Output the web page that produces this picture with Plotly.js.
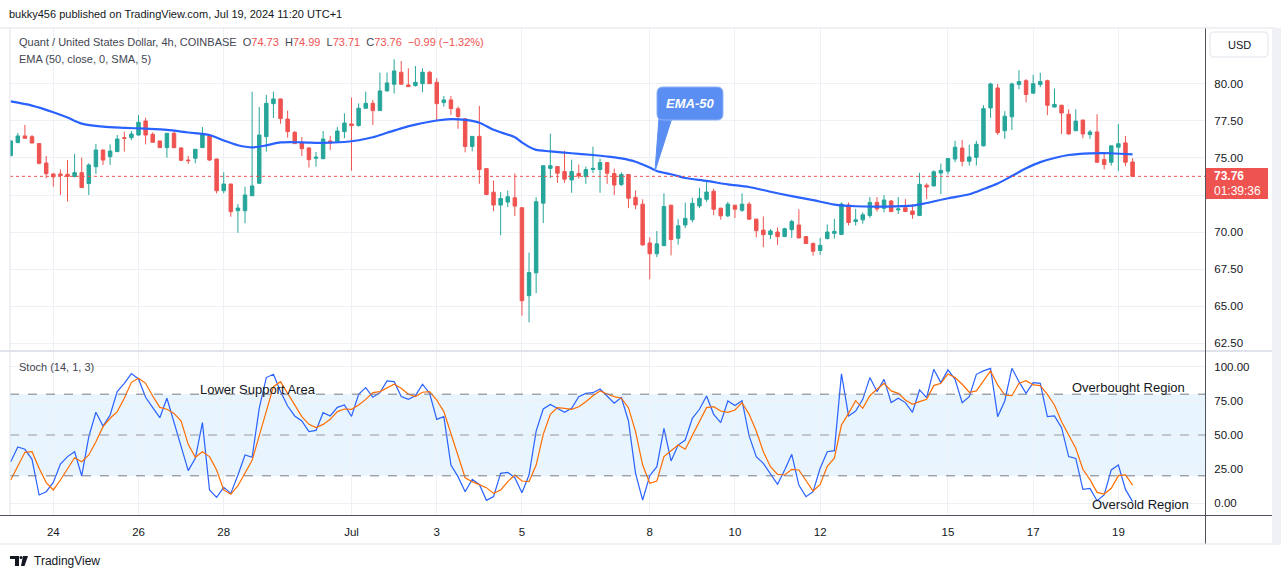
<!DOCTYPE html>
<html><head><meta charset="utf-8">
<script src="https://cdn.plot.ly/plotly-3.0.1.min.js"></script>
<style>html,body{margin:0;padding:0;background:#fff;}#chart{width:1281px;height:579px;}</style>
</head><body><div id="chart"></div>
<script>
// ---- DATA (4h candles, first candle = 2024-06-23 00:00) ----
const firstCandle = '2024-06-23T00:00:00Z';
const opens = [75.16,76.04,76.49,76.44,75.97,74.66,
 73.92,73.92,73.9,73.74,74.01,73.27,74.41,75.54,75.09,75.43,76.37,76.37,
 76.55,77.5,76.6,76.15,75.7,76.67,75.68,74.86,74.98,75.7,76.49,74.93,
 72.79,73.24,71.44,71.44,72.45,73.29,76.44,78.67,78.99,77.63,76.73,76.01,
 75.68,74.98,74.95,76.15,76.06,76.78,
 77.3,77.19,78.36,78.69,78.2,79.53,79.98,80.79,79.93,79.89,80.02,80.79,
 80.11,78.74,78.92,78.32,77.65,75.78,76.46,74.28,72.69,71.82,72.02,72.31,
 71.64,65.7,67.24,71.95,74.3,74.42,74.08,73.52,73.95,73.74,74.22,74.22,
 74.69,73.95,73.21,73.88,72.34,71.88,
 69.26,68.53,69.08,71.81,69.58,70.47,70.83,71.76,72.21,72.75,71.61,71.09,
 71.81,71.47,71.88,70.87,70.13,69.82,70.0,69.69,70.16,70.47,69.69,69.22,
 68.75,69.56,69.91,69.84,71.82,70.71,70.82,71.11,72.0,71.6,72.09,71.49,
 71.64,71.42,71.11,73.16,73.11,73.98,
 74.11,74.93,75.67,74.78,75.04,75.82,78.38,79.73,76.84,77.78,79.96,80.22,
 79.38,79.96,80.22,78.44,78.56,77.96,76.84,77.56,76.58,76.76,74.89,74.71,
 75.73,76.02,74.73];
const highs = [76.2,76.69,77.23,76.55,76.01,75.14,
 73.95,74.23,74.86,75.27,75.02,74.64,75.95,75.56,75.92,76.55,76.78,76.82,
 77.9,77.72,76.73,76.17,76.67,76.82,75.7,75.14,75.6,77.09,76.52,74.95,
 74.03,73.26,71.89,73.06,79.48,78.45,79.26,79.48,79.0,78.2,76.82,76.42,
 75.7,75.41,76.82,76.49,77.09,78.02,
 79.08,78.69,79.48,78.92,80.77,80.77,81.67,81.55,81.06,81.21,81.06,80.88,
 80.38,79.19,79.19,78.47,77.7,76.46,78.52,74.3,73.48,72.69,72.8,73.95,
 71.66,68.61,72.35,74.48,76.64,74.44,75.49,74.89,74.55,74.42,75.76,74.96,
 74.7,74.29,74.04,73.9,72.81,72.21,
 69.64,70.07,72.61,71.83,70.87,71.99,72.32,72.99,73.44,72.92,71.63,72.03,
 71.83,72.61,72.03,70.89,71.05,70.2,70.31,70.29,70.83,71.54,69.71,69.3,
 69.6,70.51,70.89,72.0,72.0,71.56,71.33,72.36,72.36,72.49,72.16,72.36,
 72.22,71.87,74.0,73.29,74.16,74.62,
 74.98,76.16,76.22,75.89,76.16,78.56,80.09,80.0,78.16,80.09,80.93,80.33,
 80.62,80.76,80.29,79.69,78.6,78.29,78.29,77.58,76.89,77.96,75.4,75.82,
 77.29,76.49,74.99];
const lows = [75.1,76.0,76.3,76.0,74.57,73.63,
 73.06,72.5,72.05,73.7,73.0,72.5,73.92,74.53,74.53,75.4,75.43,76.2,
 76.51,75.92,76.05,75.68,75.02,75.65,74.82,74.6,74.64,75.68,74.8,72.61,
 72.61,71.03,69.95,70.59,72.43,73.27,75.43,77.70,77.32,76.37,75.95,75.14,
 74.35,74.41,74.93,75.54,76.04,76.33,
 74.14,77.12,78.34,77.23,78.18,79.5,79.35,79.96,79.8,79.82,79.44,80.0,
 77.57,78.47,77.91,76.97,75.38,75.45,73.25,72.53,71.41,69.78,71.68,71.08,
 64.35,63.9,65.87,70.6,73.65,73.32,73.32,72.65,73.61,73.25,73.99,72.65,
 73.25,72.5,73.1,71.61,71.54,69.08,
 66.81,68.3,69.04,68.42,69.15,70.27,70.65,71.61,72.03,71.14,70.83,71.0,
 70.94,71.36,70.83,69.64,68.97,69.53,69.13,69.67,69.6,69.58,69.2,68.4,
 68.45,69.5,69.56,69.82,70.44,70.44,70.56,70.96,71.38,71.33,71.36,71.22,
 71.36,70.89,71.09,72.22,73.09,72.56,
 73.89,74.71,74.44,74.49,74.49,75.78,77.71,76.56,76.29,76.89,79.64,78.76,
 79.36,79.78,77.89,78.42,76.62,76.6,76.82,76.33,76.29,74.69,74.22,74.49,
 74.11,74.44,73.71];
const closes = [76.15,76.49,76.33,76.01,74.64,73.94,
 73.72,73.81,73.76,74.01,73.0,74.53,75.54,74.86,75.47,76.28,76.33,76.62,
 77.41,76.55,76.06,75.7,76.67,75.7,74.84,74.82,75.59,76.6,74.86,72.79,
 73.24,71.37,71.62,72.5,73.11,76.55,78.69,78.99,77.66,76.78,75.97,75.63,
 74.89,75.05,76.28,76.01,76.82,77.36,
 77.19,78.36,78.69,78.2,79.53,80.07,80.88,79.98,79.82,80.11,80.79,80.02,
 78.67,78.92,78.34,77.8,75.78,76.46,74.22,72.53,71.82,72.26,72.38,71.75,
 65.36,67.26,72.04,74.48,74.48,73.97,73.57,74.08,73.79,74.22,74.3,74.69,
 73.97,73.17,73.88,72.28,71.83,69.13,
 68.53,69.2,71.72,69.49,70.42,70.92,71.94,72.28,72.7,71.54,71.09,71.88,
 71.54,71.88,70.87,70.09,69.82,70.07,69.69,70.22,70.71,69.6,69.22,68.7,
 69.1,70.0,70.04,71.89,70.64,70.82,71.16,72.0,71.56,72.16,71.38,71.56,
 71.38,71.18,73.22,73.04,74.07,74.16,
 74.96,75.73,74.78,75.07,75.93,78.33,80.0,76.71,77.82,80.0,80.16,79.29,
 80.02,80.16,78.56,78.62,78.04,76.62,77.49,76.62,76.76,74.71,74.56,75.82,
 75.96,74.71,73.76];

// EMA-50 at candle numbers (0 = first candle)
const emaCandle = [0,3,6,8,10,13,16,19,22,25,28,30,32,34,36,38,41,44,47,49,51,53,55,57,60,62,64,66,68,71,72,73,74,76,79,82,84,86,88,90,91,93,95,98,101,104,107,110,113,116,119,123,127,129,132,135,137,139,141,143,145,147,149,152,155,158];
const emaVal = [78.82,78.54,78.09,77.73,77.32,77.12,77.04,76.98,76.9,76.72,76.55,76.18,75.86,75.72,75.85,76.05,76.06,76.02,76.08,76.2,76.4,76.7,77.0,77.25,77.53,77.62,77.57,77.38,76.9,76.4,76.05,75.75,75.55,75.45,75.32,75.2,75.1,74.97,74.75,74.35,74.12,73.9,73.65,73.45,73.22,73.04,72.72,72.42,72.15,71.85,71.74,71.72,71.78,71.96,72.28,72.55,72.9,73.28,73.78,74.3,74.72,75.0,75.2,75.31,75.32,75.24];

// Stochastic (14,1,3): %K and %D, one value per candle
const stochK = [30.4,41.2,39.5,32.1,5.9,8.3,15.2,28.7,34.1,37.7,19.9,48.8,66.7,56.6,64.7,81.9,88.0,95.1,91.2,77.7,70.1,62.7,77.0,59.8,41.4,23.8,32.8,59.1,9.6,4.2,11.5,7.1,20.6,35.3,33.6,69.6,92.2,94.6,81.9,71.3,64.0,60.3,52.5,53.4,66.4,64.0,70.3,72.1,63.7,79.9,84.8,77.7,81.1,89.7,89.2,78.2,76.2,78.9,87.3,
 80.6,61.5,63.5,27.9,19.4,8.3,17.4,13.7,2.0,4.7,21.8,22.5,18.6,7.6,20.6,52.9,69.1,72.5,69.6,66.7,69.6,78.2,80.6,81.1,83.8,78.2,73.3,77.5,60.3,21.8,2.2,20.1,26.7,54.9,30.9,42.6,46.3,62.3,68.9,78.7,65.2,59.1,75.0,71.6,75.2,49.3,34.1,29.2,21.3,13.7,24.3,35.8,13.2,4.7,8.3,25.5,37.7,38.5,
 94.9,64.0,67.6,76.2,92.2,81.9,90.9,73.8,77.0,73.8,66.7,83.1,77.5,98.3,88.5,97.8,90.9,73.8,78.2,94.6,97.1,99.0,63.5,75.0,99.0,89.2,80.6,88.5,88.0,63.5,64.0,55.4,34.1,32.8,10.0,10.8,1.7,5.9,24.3,27.9,10.0,1.0];
const stochD = [16.9,26.7,37.3,37.7,25.5,15.0,9.6,16.9,25.5,33.3,30.4,35.3,45.1,56.1,62.3,67.2,77.0,88.7,91.7,88.0,78.7,70.3,68.9,65.9,60.3,43.1,33.6,37.7,34.1,24.3,9.6,6.4,12.7,21.8,31.4,49.3,67.2,85.5,89.2,80.6,72.1,63.5,57.8,55.4,57.8,61.5,67.2,69.1,68.9,72.1,76.2,81.1,81.9,84.3,87.3,84.3,79.9,78.2,81.4,
 81.9,75.7,67.2,51.2,35.8,18.6,15.7,13.7,11.3,7.1,9.6,15.7,20.6,16.2,15.7,27.9,50.5,65.2,70.1,69.6,68.9,70.8,74.5,78.9,82.4,80.1,78.2,77.0,70.1,52.5,27.9,14.5,16.2,34.1,38.2,42.6,39.5,49.9,59.8,70.1,70.8,67.6,66.7,68.4,73.8,65.2,52.9,37.7,26.7,21.1,20.6,24.8,24.3,16.9,8.8,13.6,27.0,33.0,
 57.3,65.9,75.2,69.6,78.9,83.6,88.0,82.4,80.6,75.7,72.5,74.5,76.2,86.3,88.0,94.9,92.2,87.3,81.4,82.4,89.7,97.1,86.8,79.4,78.9,87.9,89.9,86.8,86.3,79.9,72.1,59.8,50.0,40.2,24.8,17.2,7.8,6.6,10.8,20.1,20.6,13.2];

const tickCandle = [6,18,30,48,60,72,90,102,114,132,144,156];
const tickText = ['24','26','28','Jul','3','5','8','10','12','15','17','19'];
const priceTicks = [62.5,65,67.5,70,72.5,75,77.5,80];
const priceTickText = ['62.50','65.00','67.50','70.00','','75.00','77.50','80.00'];
const stochTicks = [0,25,50,75,100];
const stochTickText = ['0.00','25.00','50.00','75.00','100.00'];
const lastPrice = 73.76;

// ---- helpers ----
const t0 = Date.parse(firstCandle);
function tAt(i){ const d = new Date(t0 + i*4*3600*1000); return d.toISOString().slice(0,19).replace('T',' '); }
const xs = opens.map((_, i) => tAt(i));
const L=10, R=1205, T=28, B=515;
const px = x => (x - L)/(R - L);
const py = y => (B - y)/(B - T);
const pp = (x,y) => px(x).toFixed(5)+','+py(y).toFixed(5);

const UP='#26a69a', DN='#ef5350';
const traces = [
 {type:'candlestick', x:xs, open:opens, high:highs, low:lows, close:closes, xaxis:'x', yaxis:'y',
  increasing:{line:{color:UP,width:1}, fillcolor:UP}, decreasing:{line:{color:DN,width:1}, fillcolor:DN},
  whiskerwidth:0, hoverinfo:'skip', showlegend:false},
 {type:'scatter', mode:'lines', x:emaCandle.map(tAt), y:emaVal, xaxis:'x', yaxis:'y',
  line:{color:'#2962ff', width:2.2, shape:'spline', smoothing:0.8}, hoverinfo:'skip', showlegend:false},
 {type:'scatter', mode:'lines', x:xs, y:stochK, xaxis:'x', yaxis:'y2',
  line:{color:'#2962ff', width:1.2}, hoverinfo:'skip', showlegend:false},
 {type:'scatter', mode:'lines', x:xs, y:stochD, xaxis:'x', yaxis:'y2',
  line:{color:'#ff6d00', width:1.2}, hoverinfo:'skip', showlegend:false}
];

const gridC = '#edf0f5';
const shapes = [
 // stoch band & levels
 {type:'rect', xref:'paper', yref:'y2', x0:0, x1:1, y0:20, y1:80, fillcolor:'rgba(33,150,243,0.10)', line:{width:0}, layer:'below'},
 {type:'line', xref:'paper', yref:'y2', x0:0, x1:1, y0:80, y1:80, line:{color:'#787b86', width:1, dash:'dash'}},
 {type:'line', xref:'paper', yref:'y2', x0:0, x1:1, y0:50, y1:50, line:{color:'#9598a1', width:1, dash:'dash'}},
 {type:'line', xref:'paper', yref:'y2', x0:0, x1:1, y0:20, y1:20, line:{color:'#787b86', width:1, dash:'dash'}},
 // last price dotted line
 {type:'line', xref:'paper', yref:'y', x0:0, x1:1, y0:lastPrice, y1:lastPrice, line:{color:DN, width:1, dash:'dot'}},
 // frames
 {type:'line', xref:'paper', yref:'paper', x0:px(0), x1:px(1276), y0:py(351), y1:py(351), line:{color:'#e0e3eb', width:2}},
 {type:'line', xref:'paper', yref:'paper', x0:px(0), x1:px(1276), y0:py(515.5), y1:py(515.5), line:{color:'#50535e', width:1}},
 {type:'line', xref:'paper', yref:'paper', x0:px(1205.5), x1:px(1205.5), y0:py(28), y1:py(544), line:{color:'#50535e', width:1}},
 {type:'line', xref:'paper', yref:'paper', x0:px(10), x1:px(10), y0:py(28), y1:py(515), line:{color:'#e0e3eb', width:1}},
 {type:'line', xref:'paper', yref:'paper', x0:px(0), x1:px(1276), y0:py(28), y1:py(28), line:{color:'#e0e3eb', width:1}},
 {type:'line', xref:'paper', yref:'paper', x0:px(0), x1:px(1276), y0:py(544), y1:py(544), line:{color:'#e0e3eb', width:1}},
 {type:'rect', xref:'paper', yref:'paper', x0:px(1272), x1:px(1281), y0:py(28), y1:py(545), fillcolor:'#f0f1f5', line:{width:0}},
 // USD box
 {type:'path', xref:'paper', yref:'paper', path:`M ${pp(1214,32)} L ${pp(1264,32)} Q ${pp(1268,32)} ${pp(1268,36)} L ${pp(1268,53)} Q ${pp(1268,57)} ${pp(1264,57)} L ${pp(1214,57)} Q ${pp(1210,57)} ${pp(1210,53)} L ${pp(1210,36)} Q ${pp(1210,32)} ${pp(1214,32)} Z`, fillcolor:'#ffffff', line:{color:'#e0e3eb', width:1}},
 // red last-price tag
 {type:'rect', xref:'paper', yref:'paper', x0:px(1206), x1:px(1268), y0:py(199), y1:py(168), fillcolor:'#ef5350', line:{width:0}},
 // EMA-50 callout
 {type:'path', xref:'paper', yref:'paper', path:`M ${pp(659,118)} L ${pp(672,118)} L ${pp(655,171)} Z`, fillcolor:'#5a8ef2', line:{color:'#5a8ef2', width:1}},
 {type:'path', xref:'paper', yref:'paper', path:`M ${pp(663,87)} L ${pp(717,87)} Q ${pp(723,87)} ${pp(723,93)} L ${pp(723,114)} Q ${pp(723,120)} ${pp(717,120)} L ${pp(663,120)} Q ${pp(657,120)} ${pp(657,114)} L ${pp(657,93)} Q ${pp(657,87)} ${pp(663,87)} Z`, fillcolor:'#5a8ef2', line:{color:'#8fb3f8', width:1}},
 // TradingView logo
 {type:'path', xref:'paper', yref:'paper', path:`M ${pp(10,556)} L ${pp(19,556)} L ${pp(19,566)} L ${pp(15,566)} L ${pp(15,559)} L ${pp(10,559)} Z`, fillcolor:'#131722', line:{width:0}},
 {type:'circle', xref:'paper', yref:'paper', x0:px(19.5), x1:px(22.5), y0:py(559), y1:py(556), fillcolor:'#131722', line:{width:0}},
 {type:'path', xref:'paper', yref:'paper', path:`M ${pp(23,556)} L ${pp(28,556)} L ${pp(24.5,566)} L ${pp(21,566)} Z`, fillcolor:'#131722', line:{width:0}}
];

const F = 'Liberation Sans, Arial, sans-serif';
const ann = (x,y,text,opt={}) => Object.assign({xref:'paper', yref:'paper', x:px(x), y:py(y), text:text, showarrow:false, xanchor:'left', yanchor:'middle', font:{family:F, size:11, color:'#131722'}}, opt);
const red = s => `<span style="color:#ef5350">${s}</span>`;
const annotations = [
 ann(7,14,'bukky456 published on TradingView.com, Jul 19, 2024 11:20 UTC+1', {font:{family:F,size:11,color:'#131722'}}),
 ann(17,42,'Quant / United States Dollar, 4h, COINBASE&nbsp;&nbsp;O'+red('74.73')+'&nbsp;&nbsp;H'+red('74.99')+'&nbsp;&nbsp;L'+red('73.71')+'&nbsp;&nbsp;C'+red('73.76')+'&nbsp;&nbsp;'+red('−0.99 (−1.32%)'), {font:{family:F,size:11,color:'#434651'}}),
 ann(17,59,'EMA (50, close, 0, SMA, 5)', {font:{family:F,size:11,color:'#434651'}}),
 ann(17,367,'Stoch (14, 1, 3)', {font:{family:F,size:11,color:'#434651'}}),
 ann(258,389,'Lower Support Area', {xanchor:'center', font:{family:F,size:13,color:'#131722'}}),
 ann(1128,387,'Overbought Region', {xanchor:'center', font:{family:F,size:13,color:'#131722'}}),
 ann(1140,504,'Oversold Region', {xanchor:'center', font:{family:F,size:13,color:'#131722'}}),
 ann(690,103,'<b><i>EMA-50</i></b>', {xanchor:'center', font:{family:F,size:13,color:'#ffffff'}}),
 ann(1239,44.5,'USD', {xanchor:'center', font:{family:F,size:11,color:'#131722'}}),
 ann(1212,176,'<b>73.76</b>', {font:{family:F,size:12,color:'#ffffff'}}),
 ann(1212,191,'01:39:36', {font:{family:F,size:12,color:'#ffffff'}}),
 ann(32,561,'TradingView', {font:{family:F,size:12,color:'#131722'}})
];

const layout = {
 width:1281, height:579, margin:{l:L, r:1281-R, t:T, b:579-B},
 paper_bgcolor:'#ffffff', plot_bgcolor:'#ffffff', showlegend:false, dragmode:false,
 font:{family:F, size:11.5, color:'#131722'},
 xaxis:{type:'date', anchor:'y2', range:[tAt(-0.1), tAt(168.2)], rangeslider:{visible:false},
  tickmode:'array', tickvals:tickCandle.map(tAt), ticktext:tickText, showgrid:true, gridcolor:gridC,
  ticks:'outside', ticklen:6, tickcolor:'rgba(0,0,0,0)', zeroline:false, showline:false, tickfont:{size:11.5, color:'#131722'}},
 yaxis:{domain:[(B-350)/(B-T),1], range:[62.03,83.78], side:'right', tickmode:'array', tickvals:priceTicks, ticktext:priceTickText,
  showgrid:true, gridcolor:gridC, zeroline:false, ticks:'outside', ticklen:6, tickcolor:'rgba(0,0,0,0)', tickfont:{size:11.5, color:'#131722'}},
 yaxis2:{domain:[0,(B-352)/(B-T)], range:[-8.8,111], side:'right', tickmode:'array', tickvals:stochTicks, ticktext:stochTickText,
  showgrid:true, gridcolor:gridC, zeroline:false, ticks:'outside', ticklen:6, tickcolor:'rgba(0,0,0,0)', tickfont:{size:11.5, color:'#131722'}},
 shapes:shapes, annotations:annotations
};
Plotly.newPlot('chart', traces, layout, {displayModeBar:false, staticPlot:true});
</script></body></html>
